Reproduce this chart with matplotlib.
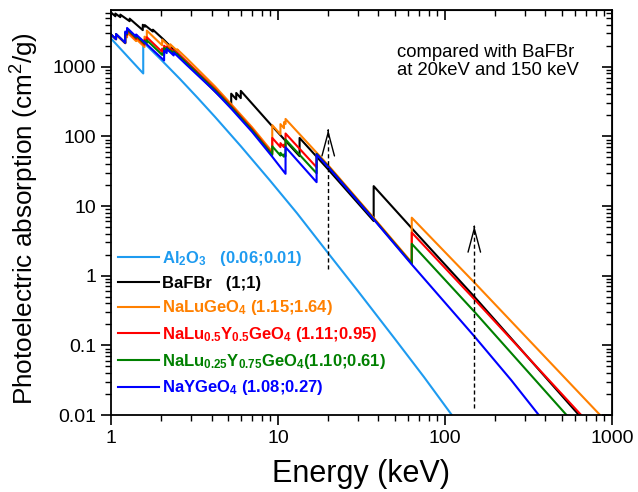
import matplotlib
matplotlib.use('Agg')
import matplotlib.pyplot as plt
from matplotlib.ticker import LogLocator, FuncFormatter, NullFormatter

plt.rcParams['font.family'] = ['Liberation Sans', 'DejaVu Sans']
plt.rcParams['mathtext.fontset'] = 'custom'
plt.rcParams['mathtext.rm'] = 'Liberation Sans'
plt.rcParams['mathtext.it'] = 'Liberation Sans:italic'
plt.rcParams['mathtext.bf'] = 'Liberation Sans:bold'

# energy (keV) vs photoelectric absorption (cm2/g), a repeated energy is an absorption edge
al2o3_E = [1.0, 1.30, 1.5596, 1.5596, 2.0, 2.59, 3.3, 4.2, 6.0, 8.95, 13.0, 20.0, 30.0, 50.0, 75.0, 110.0]
al2o3_mu = [2540, 1283, 800, 2250, 1253, 665, 358, 190, 72, 23.3, 7.9, 2.1, 0.61, 0.125, 0.035, 0.01]

bafbr_E = [1.0, 1.062, 1.062, 1.137, 1.137, 1.293, 1.293, 1.550, 1.550, 1.596, 1.596,
           1.782, 1.782, 2.06, 2.84, 4.2, 5.247, 5.247, 5.624, 5.624, 5.989, 5.989,
           9.0, 13.474, 13.474, 20.0, 37.44, 37.44, 63.3, 150, 635]
bafbr_mu = [6000, 5300, 5800, 5150, 5600, 4500, 4900, 3350, 4000, 3750, 3950,
            3200, 3400, 2470, 1143, 440, 265, 410, 340, 420, 354, 450,
            150, 52, 95, 33.5, 6.1, 19.3, 4.8, 0.5, 0.01]

nalu_E = [1.0, 1.072, 1.072, 1.217, 1.217, 1.248, 1.248, 1.414, 1.414, 1.588, 1.588,
          1.639, 1.639, 2.024, 2.024, 2.264, 2.264, 2.491, 2.491, 2.84, 4.2, 5.25, 7.0,
          9.244, 9.244, 10.349, 10.349, 10.870, 10.870, 11.103, 11.103, 17.04, 20.0,
          37.4, 63.314, 63.314, 150, 850]
nalu_mu = [2900, 2480, 2900, 2170, 2800, 2640, 3100, 2330, 2500, 1920, 2700,
           2500, 3300, 2030, 2450, 1900, 2100, 1690, 1780, 1320, 520, 290, 135,
           60, 145, 107, 150, 131, 160, 151, 178, 58.4, 38.5,
           6.8, 1.55, 6.8, 0.80, 0.01]

nalu05_E = [1.0, 1.072, 1.072, 1.217, 1.217, 1.248, 1.248, 1.414, 1.414, 1.588, 1.588,
            1.639, 1.639, 2.024, 2.024, 2.080, 2.080, 2.156, 2.156, 2.264, 2.264,
            2.373, 2.373, 2.491, 2.491, 2.84, 4.2, 5.25, 7.0, 9.244, 9.244,
            10.349, 10.349, 10.870, 10.870, 11.103, 11.103, 17.04, 17.04, 20.0,
            37.4, 63.314, 63.314, 150, 655]
nalu05_mu = [2900, 2480, 2920, 2180, 3000, 2840, 3350, 2500, 2700, 2070, 2450,
             2280, 2650, 1630, 1820, 1710, 2000, 1850, 1950, 1740, 1820,
             1640, 1720, 1540, 1590, 1180, 480, 272, 127, 56, 95,
             70, 80, 70, 76, 72, 110, 36, 56, 37.2,
             6.6, 1.5, 4.16, 0.46, 0.01]

nalu025_E = [1.0, 1.072, 1.072, 1.217, 1.217, 1.248, 1.248, 1.414, 1.414, 1.588, 1.588,
             1.639, 1.639, 2.024, 2.024, 2.080, 2.080, 2.156, 2.156, 2.264, 2.264,
             2.373, 2.373, 2.491, 2.491, 2.84, 4.2, 5.25, 7.0, 9.244, 9.244,
             10.349, 10.349, 10.870, 10.870, 11.103, 11.103, 17.04, 17.04, 20.0,
             37.4, 63.314, 63.314, 150, 535]
nalu025_mu = [2900, 2480, 2940, 2190, 3100, 2930, 3480, 2600, 2800, 2150, 2350,
              2190, 2400, 1480, 1560, 1470, 1850, 1700, 1870, 1670, 1710,
              1540, 1660, 1490, 1510, 1120, 460, 262, 122, 54, 72,
              53, 58, 51, 55, 52, 90, 29.5, 56, 36.9,
              6.55, 1.49, 2.87, 0.305, 0.01]

nayge_E = [1.0, 1.072, 1.072, 1.217, 1.217, 1.248, 1.248, 1.414, 1.414, 2.080, 2.080,
           2.156, 2.156, 2.373, 2.373, 2.84, 4.2, 5.25, 7.0, 9.244, 11.103, 11.103,
           17.04, 17.04, 20.0, 37.4, 63.3, 150, 250, 365]
nayge_mu = [2900, 2480, 2950, 2200, 3200, 3020, 3600, 2700, 2900, 1230, 1700,
            1570, 1800, 1450, 1600, 1060, 440, 250, 116, 51, 29, 70,
            22, 55, 36.2, 6.45, 1.45, 0.135, 0.0315, 0.01]

labels = [r'$\mathbf{Al_2O_3}$   (0.06;0.01)',
          'BaFBr   (1;1)',
          r'$\mathbf{NaLuGeO_4}$ (1.15;1.64)',
          r'$\mathbf{NaLu_{0.5}Y_{0.5}GeO_4}$ (1.11;0.95)',
          r'$\mathbf{NaLu_{0.25}Y_{0.75}GeO_4}$(1.10;0.61)',
          r'$\mathbf{NaYGeO_4}$ (1.08;0.27)']
colors = ['#1E9BF0', 'black', '#FF8000', '#FF0000', '#008000', '#0000FF']

# dashed arrows at 20 keV and 150 keV
arrow_E = [20, 150]
arrow_lo = [1.26, 0.0126]
arrow_hi = [125, 5.2]

fig = plt.figure(figsize=(6.38, 4.92), dpi=100)
ax = fig.add_axes([0.174, 0.1565, 0.785, 0.823])

series = [(al2o3_E, al2o3_mu), (bafbr_E, bafbr_mu), (nalu_E, nalu_mu),
          (nalu05_E, nalu05_mu), (nalu025_E, nalu025_mu), (nayge_E, nayge_mu)]
for (e, mu), lab, c in zip(series, labels, colors):
    ax.plot(e, mu, color=c, lw=1.5, label=lab)

for e, lo, hi in zip(arrow_E, arrow_lo, arrow_hi):
    ax.plot([e, e], [lo, hi], color='black', lw=1, ls=(0, (3, 2)))
    ax.annotate('', xy=(e, hi), xytext=(e, hi * 0.97),
                arrowprops=dict(arrowstyle='->,head_length=1.7,head_width=0.45',
                                color='black', lw=1, mutation_scale=10,
                                shrinkA=0, shrinkB=0))

ax.set_xscale('log')
ax.set_yscale('log')
ax.set_xlim(1, 1000)
ax.set_ylim(0.01, 6500)

fmt = FuncFormatter(lambda v, p: '{:g}'.format(v))
ax.xaxis.set_major_formatter(fmt)
ax.yaxis.set_major_formatter(fmt)
ax.xaxis.set_minor_formatter(NullFormatter())
ax.yaxis.set_minor_formatter(NullFormatter())
ax.yaxis.set_major_locator(LogLocator(base=10, numticks=20))
ax.yaxis.set_minor_locator(LogLocator(base=10, subs=range(2, 10), numticks=20))
ax.tick_params(which='major', direction='out', length=7, width=1.2, labelsize=14)
ax.tick_params(which='minor', direction='out', length=4, width=1)

top = ax.secondary_xaxis('top')
top.tick_params(which='major', direction='in', length=7, width=1.2, labeltop=False)
top.tick_params(which='minor', direction='in', length=4, width=1)
right = ax.secondary_yaxis('right')
right.tick_params(which='major', direction='in', length=7, width=1.2, labelright=False)
right.tick_params(which='minor', direction='in', length=4, width=1)
for s in list(ax.spines.values()):
    s.set_linewidth(1.3)

ax.set_xlabel('Energy (keV)', fontsize=22, labelpad=9)
ax.set_ylabel('Photoelectric absorption (cm$^2$/g)', fontsize=18.8)
ax.yaxis.set_label_coords(-0.14, 0.485)

ax.text(0.571, 0.917, 'compared with BaFBr\nat 20keV and 150 keV', transform=ax.transAxes,
        fontsize=13.3, va='top', ha='left', linespacing=1.1)

leg = ax.legend(loc='lower left', bbox_to_anchor=(0.008, 0.035), frameon=False,
                prop={'weight': 'bold', 'size': 12}, handlelength=2.45,
                handletextpad=0.15, labelspacing=0.46, borderaxespad=0, borderpad=0.2)
for t, c in zip(leg.get_texts(), colors):
    t.set_color(c)

fig.savefig('out.png', dpi=100)
